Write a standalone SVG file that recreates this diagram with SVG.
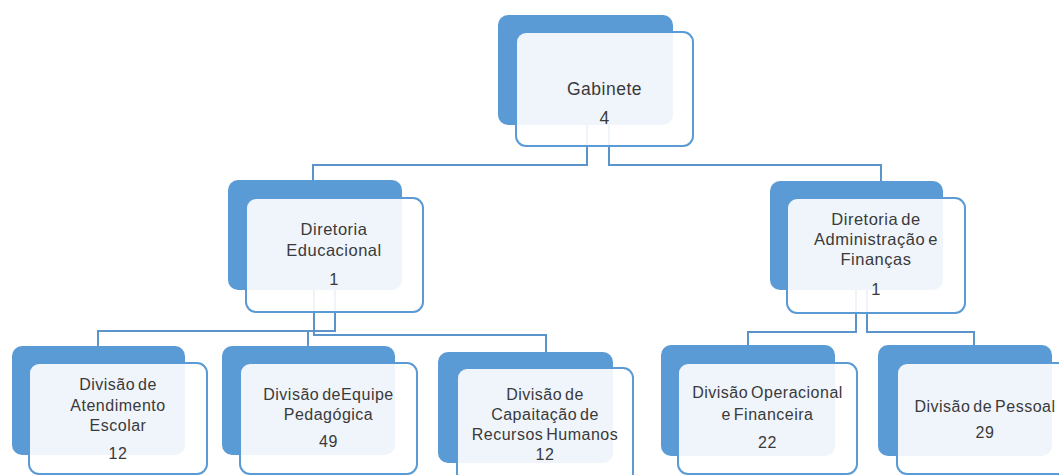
<svg xmlns="http://www.w3.org/2000/svg" width="1059" height="475" viewBox="0 0 1059 475">
<style>
.back{fill:#5B9BD5;}
.front{fill:#ffffff;fill-opacity:0.9;stroke:#5B9BD5;stroke-width:2;}
.conn{fill:none;stroke:#5B93CB;stroke-width:2;}
text{font-family:"Liberation Sans",Arial,sans-serif;fill:#3a3a3a;text-anchor:middle;letter-spacing:0.5px;word-spacing:-2px;}
.t16{font-size:16px;}
.t165{font-size:16.5px;}
.t17{font-size:17.5px;}
</style>
<rect width="1059" height="475" fill="#ffffff"/>
<g id="connectors">
<path class="conn" d="M587,125 V165 H313 V180"/>
<path class="conn" d="M609,125 V165 H881 V181"/>
<path class="conn" d="M335,290 V331 H98 V346"/>
<path class="conn" d="M314,290 V331 H308 V346"/>
<path class="conn" d="M314,290 V335 H546 V352"/>
<path class="conn" d="M856,290 V332 H748 V345"/>
<path class="conn" d="M867,290 V332 H974 V345"/>
</g>
<g id="gabinete">
<rect class="back" x="498" y="15" width="175" height="110" rx="10"/>
<rect class="front" x="516" y="32" width="177" height="114" rx="10"/>
<text class="t17" x="604.5" y="95">Gabinete</text>
<text class="t17" x="604.5" y="124">4</text>
</g>
<g id="diretoria-educacional">
<rect class="back" x="228" y="180" width="174" height="110" rx="10"/>
<rect class="front" x="246" y="198" width="177" height="114" rx="10"/>
<text class="t165" x="334" y="235">Diretoria</text>
<text class="t165" x="334" y="256">Educacional</text>
<text class="t165" x="334" y="285">1</text>
</g>
<g id="diretoria-administracao">
<rect class="back" x="770" y="181" width="173" height="109" rx="10"/>
<rect class="front" x="787" y="198" width="178" height="115" rx="10"/>
<text class="t165" x="876" y="225">Diretoria de</text>
<text class="t165" x="876" y="245">Administração e</text>
<text class="t165" x="876" y="265">Finanças</text>
<text class="t165" x="876" y="295">1</text>
</g>
<g id="divisao-atendimento">
<rect class="back" x="12" y="346" width="173" height="109" rx="10"/>
<rect class="front" x="29" y="363" width="178" height="111" rx="10"/>
<text class="t16" x="118" y="390">Divisão de</text>
<text class="t16" x="118" y="411">Atendimento</text>
<text class="t16" x="118" y="431">Escolar</text>
<text class="t16" x="118" y="459">12</text>
</g>
<g id="divisao-equipe">
<rect class="back" x="222" y="346" width="173" height="109" rx="10"/>
<rect class="front" x="240" y="363" width="177" height="111" rx="10"/>
<text class="t16" x="328.5" y="400">Divisão deEquipe</text>
<text class="t16" x="328.5" y="420">Pedagógica</text>
<text class="t16" x="328.5" y="447">49</text>
</g>
<g id="divisao-capacitacao">
<rect class="back" x="438" y="352" width="175" height="111" rx="10"/>
<rect class="front" x="457" y="368" width="176" height="115" rx="10"/>
<text class="t16" x="545" y="400">Divisão de</text>
<text class="t16" x="545" y="420">Capaitação de</text>
<text class="t16" x="545" y="440">Recursos Humanos</text>
<text class="t16" x="545" y="460">12</text>
</g>
<g id="divisao-operacional">
<rect class="back" x="661" y="345" width="174" height="111" rx="10"/>
<rect class="front" x="678" y="363" width="179" height="111" rx="10"/>
<text class="t16" x="767.5" y="398">Divisão Operacional</text>
<text class="t16" x="767.5" y="420">e Financeira</text>
<text class="t16" x="767.5" y="448">22</text>
</g>
<g id="divisao-pessoal">
<rect class="back" x="878" y="345" width="174" height="111" rx="10"/>
<rect class="front" x="897" y="363" width="178" height="111" rx="10"/>
<text class="t16" x="985" y="412">Divisão de Pessoal</text>
<text class="t16" x="985" y="438">29</text>
</g>
</svg>
